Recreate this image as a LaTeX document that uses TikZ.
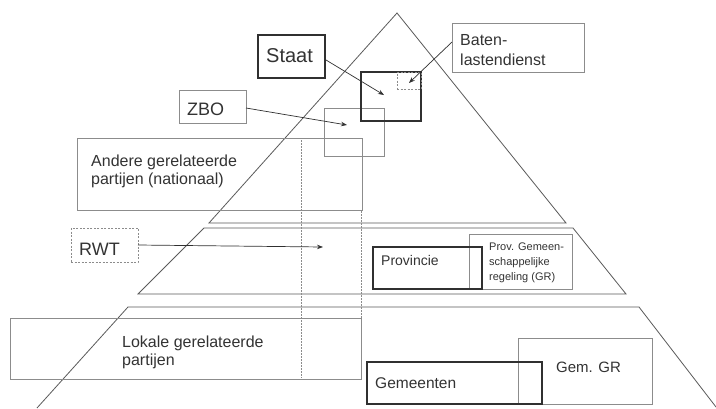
\documentclass[tikz,border=0pt]{standalone}
\usepackage{fontspec}
\setmainfont{Liberation Sans}
\usetikzlibrary{arrows.meta}
\definecolor{txt}{HTML}{333333}
\definecolor{lvl}{HTML}{5A5A5A}
\definecolor{thin}{HTML}{8C8C8C}
\definecolor{thick}{HTML}{303030}
\tikzset{
  level/.style={draw=lvl, line width=0.8pt},
  box/.style={draw=thin, line width=0.8pt, inner sep=0pt, outer sep=0pt, anchor=north west},
  thickbox/.style={draw=thick, line width=1.8pt, inner sep=0pt, outer sep=0pt, anchor=north west},
  dashbox/.style={draw=thin, line width=0.8pt, dash pattern=on 2pt off 1.5pt, inner sep=0pt, outer sep=0pt, anchor=north west},
  lbl/.style={text=txt, anchor=base west, inner sep=0pt, align=left},
  arr/.style={draw=thick, line width=0.7pt, -{Stealth[length=6pt,width=4.5pt]}},
  dotline/.style={draw=thin, line width=0.8pt, dash pattern=on 1.5pt off 1.5pt},
}
\begin{document}
\begin{tikzpicture}[x=1pt,y=-1pt]
\useasboundingbox (0,0) rectangle (716,408);
\fill[white] (0,0) rectangle (716,408);

% pyramid levels
\draw[level] (209,223) -- (397,13) -- (566,223) -- cycle;
\draw[level] (204,228) -- (573,228) -- (626,294) -- (138,294) -- cycle;
\draw[level] (37,408) -- (128,307) -- (639,307) -- (716,407);

% boxes (empty, named)
\node[box, minimum width=285pt, minimum height=72pt] (andere) at (77,138) {};
\node[box, minimum width=351pt, minimum height=61pt] (lokale) at (10,318) {};
\draw[dotline] (301,140) -- (301,378);
\draw[dotline] (361,211) -- (361,318);
\node[box, minimum width=60pt, minimum height=48pt] (zbobox) at (324,108) {};
\node[thickbox, minimum width=60pt, minimum height=49pt] (staatbox) at (361,72) {};
\node[dashbox, minimum width=24pt, minimum height=17pt] (batenbox) at (397,72) {};
\node[thickbox, minimum width=67pt, minimum height=43pt] (staat) at (258,35) {};
\node[box, minimum width=132pt, minimum height=49pt] (baten) at (452,23) {};
\node[box, minimum width=67pt, minimum height=33pt] (zbo) at (179,90) {};
\node[dashbox, minimum width=67pt, minimum height=34pt] (rwt) at (71,228) {};
\node[box, minimum width=103pt, minimum height=55pt] (provgr) at (469,234) {};
\node[thickbox, minimum width=109pt, minimum height=42pt] (prov) at (373,247) {};
\node[box, minimum width=134pt, minimum height=66pt] (gemgr) at (518,338) {};
\node[thickbox, minimum width=175pt, minimum height=42pt] (gem) at (367,362) {};

% arrow ends
\coordinate (tStaat) at (384,95);
\coordinate (tBaten) at (409,83);
\coordinate (tZbo) at (347,125);
\coordinate (tRwt) at (323,247);
\coordinate (sStaat) at (326,60);
\coordinate (sBaten) at (452,42);
\coordinate (sZbo) at (246,108);

\draw[arr] (sStaat) -- (tStaat);
\draw[arr] (sBaten) -- (tBaten);
\draw[arr] (sZbo) -- (tZbo);
\draw[arr] (rwt.east) -- (tRwt);

% labels (base = baseline of last line)
\node[lbl, font=\fontsize{20}{24}\selectfont] (lStaat) at (266,62) {Staat};
\node[lbl, font=\fontsize{16}{20}\selectfont] (lBaten) at (460,65) {Baten-\\lastendienst};
\node[lbl, font=\fontsize{18}{22}\selectfont] (lZbo) at (187,115) {ZBO};
\node[lbl, font=\fontsize{16}{18}\selectfont] (lAndere) at (91,184) {Andere gerelateerde\\partijen (nationaal)};
\node[lbl, font=\fontsize{18}{22}\selectfont] (lRwt) at (79,255) {RWT};
\node[lbl, font=\fontsize{16}{18}\selectfont] (lLokale) at (122,365) {Lokale gerelateerde\\partijen};
\node[lbl, font=\fontsize{14}{17}\selectfont] (lProv) at (381,265) {Provincie};
\node[lbl, font=\fontsize{11}{15}\selectfont] (lProvgr) at (489,280) {Prov. Gemeen-\\schappelijke\\regeling (GR)};
\node[lbl, font=\fontsize{15}{18}\selectfont] (lGemgr) at (556,372) {Gem. GR};
\node[lbl, font=\fontsize{15.5}{18}\selectfont] (lGem) at (375,388) {Gemeenten};
\end{tikzpicture}
\end{document}
